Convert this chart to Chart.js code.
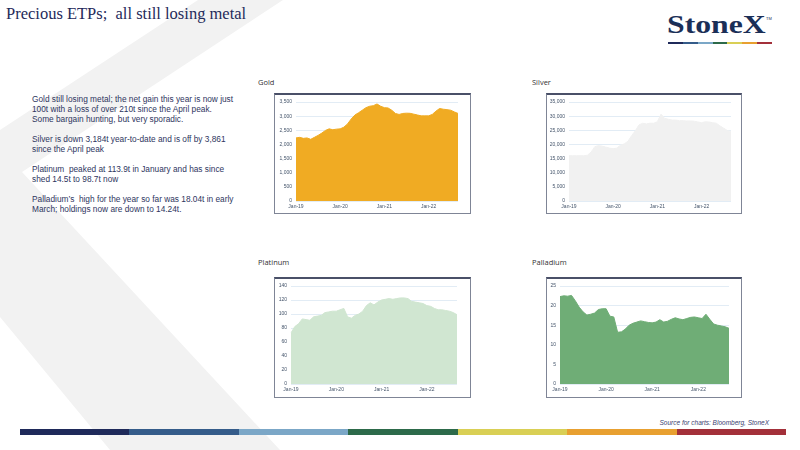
<!DOCTYPE html>
<html>
<head>
<meta charset="utf-8">
<script src="https://cdn.jsdelivr.net/npm/chart.js@4.4.0/dist/chart.umd.min.js"></script>
<style>
  html, body { margin: 0; padding: 0; background: #fff; }
  #slide { position: relative; width: 800px; height: 450px; overflow: hidden; font-family: "Liberation Sans", Arial, sans-serif; }
  #chevron { position: absolute; left: 0; top: 0; width: 800px; height: 450px; background: #f2f2f2;
    clip-path: polygon(198px 0, 283px 0, 22px 172px, 280px 450px, 110px 450px, 0 317px, 0 130px); }
  #title { position: absolute; left: 6px; top: 4px; font-family: "Liberation Serif", "Times New Roman", serif; font-size: 16.5px; color: #1f2a5a; white-space: nowrap; }
  #logo { position: absolute; left: 667px; top: 10px; font-family: "Liberation Serif", serif; font-weight: bold; font-size: 26px; color: #1b2f57;
    transform: scaleX(1.22); transform-origin: left top; white-space: nowrap; }
  #tm { position: absolute; left: 766px; top: 16px; font-size: 4px; color: #1b2f57; }
  #logoBar { position: absolute; left: 668px; top: 42px; width: 104px; height: 2px;
    background: linear-gradient(to right, #1f2a5a 0 14%, #355c8a 14% 29%, #7ba7c7 29% 43%, #2d6a4a 43% 57%, #d9cf55 57% 71%, #e8a030 71% 86%, #a3303a 86% 100%); }
  #notes { position: absolute; left: 32px; top: 94px; font-size: 8.3px; line-height: 10px; color: #2e3560; white-space: nowrap; }
  #notes p { margin: 0 0 10px 0; }
  .ctitle { position: absolute; font-family: "Open Sans", "Liberation Sans", sans-serif; font-size: 7.5px; color: #333; }
  .frame { position: absolute; border: 1px solid #7f8596; border-top: 2px solid #4a5068; background: #fff; }
  .frame canvas { display: block; }
  #source { position: absolute; right: 31px; top: 419px; font-size: 6.5px; font-style: italic; color: #3a4270; }
  #bar { position: absolute; left: 20px; top: 429px; width: 766px; height: 6px;
    background: linear-gradient(to right, #1f2a5a 0 14.28%, #355c8a 14.28% 28.57%, #7ba7c7 28.57% 42.86%, #2d6a4a 42.86% 57.14%, #d9cf55 57.14% 71.43%, #e8a030 71.43% 85.71%, #a3303a 85.71% 100%); }
</style>
</head>
<body>
<div id="slide">
  <div id="chevron"></div>
  <div id="title">Precious ETPs;&nbsp; all still losing metal</div>
  <div id="logo">StoneX</div>
  <div id="tm">TM</div>
  <div id="logoBar"></div>
  <div id="notes">
    <p>Gold still losing metal; the net gain this year is now just<br>100t with a loss of over 210t since the April peak.<br>Some bargain hunting, but very sporadic.</p>
    <p>Silver is down 3,184t year-to-date and is off by 3,861<br>since the April peak</p>
    <p>Platinum&nbsp; peaked at 113.9t in January and has since<br>shed 14.5t to 98.7t now</p>
    <p>Palladium’s&nbsp; high for the year so far was 18.04t in early<br>March; holdings now are down to 14.24t.</p>
  </div>

  <div class="ctitle" style="left:258px; top:77px;">Gold</div>
  <div class="ctitle" style="left:532px; top:77px;">Silver</div>
  <div class="ctitle" style="left:258px; top:257px;">Platinum</div>
  <div class="ctitle" style="left:532px; top:257px;">Palladium</div>

  <div class="frame" style="left:274px; top:93px;"><canvas id="goldChart" width="195" height="118"></canvas></div>
  <div class="frame" style="left:546px; top:93px;"><canvas id="silverChart" width="194" height="118"></canvas></div>
  <div class="frame" style="left:274px; top:277px;"><canvas id="platinumChart" width="195" height="118"></canvas></div>
  <div class="frame" style="left:546px; top:277px;"><canvas id="palladiumChart" width="194" height="118"></canvas></div>

  <div id="source">Source for charts: Bloomberg, StoneX</div>
  <div id="bar"></div>
</div>

<script>
// Month categories, Jan-19 .. Sep-22
const months = [
  'Jan-19', 'Feb-19', 'Mar-19', 'Apr-19', 'May-19', 'Jun-19', 'Jul-19', 'Aug-19', 'Sep-19', 'Oct-19', 'Nov-19', 'Dec-19',
  'Jan-20', 'Feb-20', 'Mar-20', 'Apr-20', 'May-20', 'Jun-20', 'Jul-20', 'Aug-20', 'Sep-20', 'Oct-20', 'Nov-20', 'Dec-20',
  'Jan-21', 'Feb-21', 'Mar-21', 'Apr-21', 'May-21', 'Jun-21', 'Jul-21', 'Aug-21', 'Sep-21', 'Oct-21', 'Nov-21', 'Dec-21',
  'Jan-22', 'Feb-22', 'Mar-22', 'Apr-22', 'May-22', 'Jun-22', 'Jul-22', 'Aug-22', 'Sep-22'
];

// ETP holdings (tonnes)
const gold = [
  2230, 2250, 2215, 2230, 2180, 2250, 2320, 2400, 2495, 2550, 2520, 2540,
  2550, 2610, 2725, 2900, 3040, 3120, 3210, 3300, 3350, 3370, 3430, 3350,
  3300, 3290, 3210, 3095, 3060, 3095, 3105, 3100, 3070, 3040, 3010, 3010,
  3010, 3060, 3175, 3270, 3245, 3230, 3210, 3150, 3095
];
const silver = [
  16000, 16000, 16000, 16000, 16000, 16200, 17300, 19200, 19600, 19400, 19050, 18700,
  18500, 18700, 19750, 20200, 21100, 23100, 24800, 26900, 27500, 27250, 27500, 27500,
  28060, 30700, 29200, 28900, 28600, 28600, 28400, 28400, 28300, 28300, 28200, 27950,
  27700, 28000, 27950, 27700, 27500, 26560, 25750, 24940, 24600
];
const platinum = [
  73, 82, 86, 93, 92, 91, 96, 97, 98, 102, 103, 104,
  104, 106, 108, 96, 94, 98, 100, 104, 112, 116, 113, 117,
  120, 121, 122, 121, 122, 123, 123, 122, 118, 117, 116, 115,
  112, 111, 108, 106, 106, 105, 104, 102, 99
];
const palladium = [
  22.3, 22.5, 22.4, 22.6, 21.2, 19.6, 18.4, 17.6, 17.8, 18.1, 19.0, 19.2,
  19.2, 17.3, 17.1, 13.2, 13.3, 14.0, 15.0, 15.5, 15.8, 16.1, 15.9, 15.7,
  15.6, 15.8, 16.4, 15.8, 16.0, 16.5, 16.9, 16.6, 16.4, 16.7, 17.0, 17.1,
  16.9, 16.7, 17.8, 16.5, 15.3, 15.0, 14.8, 14.6, 14.2
];

const tickFont = { family: 'Liberation Sans', size: 5 };
const tickColor = '#44546a';

function makeChart(id, values, color, yMax, yStep, yWidth, padRight, xHeight) {
  const ctx = document.getElementById(id).getContext('2d');
  return new Chart(ctx, {
    type: 'line',
    data: {
      labels: months,
      datasets: [{
        data: values,
        fill: 'origin',
        backgroundColor: color,
        borderColor: color,
        borderWidth: 1,
        pointRadius: 0,
        tension: 0,
      }]
    },
    options: {
      responsive: false,
      animation: false,
      layout: { padding: { top: 5, right: padRight, left: 0, bottom: 0 } },
      plugins: { legend: { display: false }, tooltip: { enabled: false } },
      scales: {
        x: {
          grid: { display: false, drawTicks: false },
          border: { display: false },
          ticks: {
            autoSkip: false,
            maxRotation: 0,
            padding: 3,
            font: tickFont,
            color: tickColor,
            callback: function(value, index) {
              const lab = months[index];
              return lab.startsWith('Jan') ? lab : null;
            }
          },
          afterFit: function(scale) { scale.height = xHeight; }
        },
        y: {
          min: 0,
          max: yMax,
          grid: { color: '#dbe7f3', lineWidth: 0.8, drawTicks: false },
          border: { display: false },
          ticks: {
            stepSize: yStep,
            padding: 4,
            font: tickFont,
            color: tickColor,
            callback: function(value) {
              return value.toLocaleString('en-US');
            }
          },
          afterFit: function(scale) { scale.width = yWidth; }
        }
      }
    }
  });
}

makeChart('goldChart', gold, '#f0ab23', 3500, 500, 21, 12, 12);
makeChart('silverChart', silver, '#f1f1f1', 35000, 5000, 22, 10, 12);
makeChart('platinumChart', platinum, '#d0e6d1', 140, 20, 16, 13, 13);
makeChart('palladiumChart', palladium, '#6fad76', 25, 5, 13, 12, 13);
</script>
</body>
</html>
